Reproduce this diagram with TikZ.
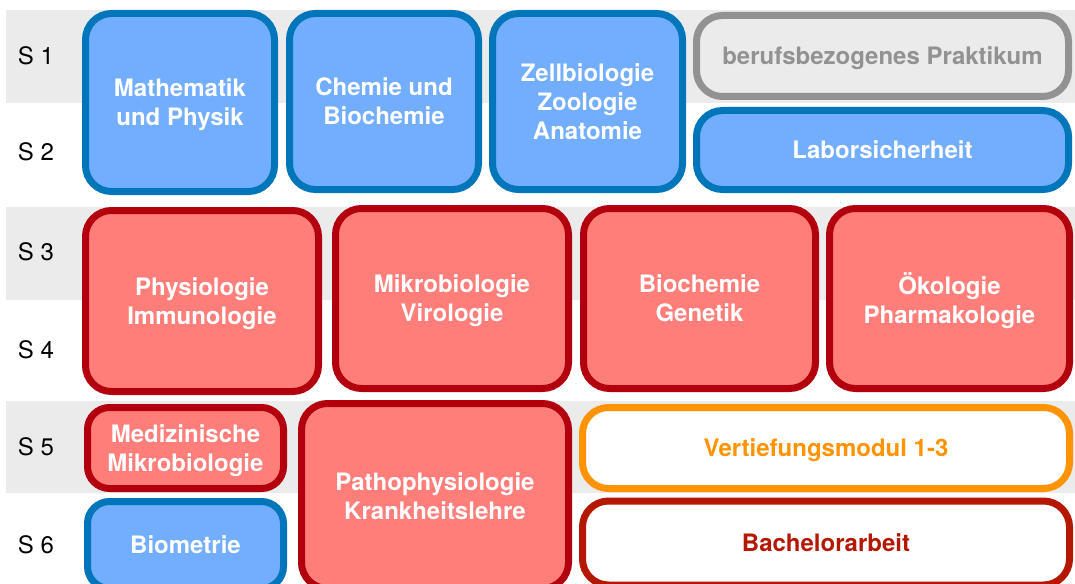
\documentclass[tikz,border=0pt]{standalone}
\usepackage{fontspec}
\setmainfont{TeX Gyre Heros}
\definecolor{band}{HTML}{EBEBEB}
\definecolor{bluefill}{HTML}{72ADFE}
\definecolor{blueline}{HTML}{0076BA}
\definecolor{redfill}{HTML}{FF7E79}
\definecolor{redline}{HTML}{B3000F}
\definecolor{grayline}{HTML}{929292}
\definecolor{orangeline}{HTML}{FF9300}
\definecolor{thesisline}{HTML}{B41800}

\begin{document}
\begin{tikzpicture}[x=1pt,y=-1pt]

\tikzset{module/.style = {shape=rectangle,rounded corners=26pt,line width=7pt,inner sep=0pt,
  align=center,text depth=-2pt,font=\fontsize{24}{29}\selectfont\bfseries,text=white}}
\tikzset{bluemod/.style = {module,draw=blueline,fill=bluefill}}
\tikzset{redmod/.style = {module,draw=redline,fill=redfill}}
\tikzset{sem/.style = {font=\fontsize{24}{29}\selectfont}}

\useasboundingbox (0,0) rectangle (1075,583);
\begin{scope}
\clip (0,0) rectangle (1075,583);

% grey bands for odd semesters
\fill[band] (6,10) rectangle (1075,103);
\fill[band] (6,207) rectangle (1075,300);
\fill[band] (6,401) rectangle (1075,493);

\node[sem] (s1) at (36,56) {S 1};
\node[sem] (s2) at (36,152) {S 2};
\node[sem] (s3) at (36,252) {S 3};
\node[sem] (s4) at (36,350) {S 4};
\node[sem] (s5) at (36,447) {S 5};
\node[sem] (s6) at (36,545) {S 6};

% semester 1-2
\node[bluemod,minimum width=189pt,minimum height=178pt] (math) at (180,102.5) {Mathematik\\und Physik};
\node[bluemod,minimum width=189pt,minimum height=176pt] (chem) at (384,101.5) {Chemie und\\Biochemie};
\node[bluemod,minimum width=190pt,minimum height=176pt] (zell) at (587.5,101.5) {Zellbiologie\\Zoologie\\Anatomie};
\node[module,draw=grayline,text=grayline,minimum width=372pt,minimum height=81pt] (prak) at (882.5,56) {berufsbezogenes Praktikum};
\node[bluemod,minimum width=372pt,minimum height=79pt] (labor) at (882.5,150) {Laborsicherheit};

% semester 3-4
\node[redmod,minimum width=233pt,minimum height=181pt] (phys) at (202,301) {Physiologie\\Immunologie};
\node[redmod,minimum width=233pt,minimum height=180pt] (mikro) at (452,298.5) {Mikrobiologie\\Virologie};
\node[redmod,minimum width=232pt,minimum height=180pt] (gen) at (699.5,298.5) {Biochemie\\Genetik};
\node[redmod,minimum width=240pt,minimum height=180pt] (oeko) at (949.5,298.5) {Ökologie\\Pharmakologie};

% semester 5-6
\node[redmod,rounded corners=22pt,minimum width=196pt,minimum height=81pt] (med) at (185.5,448) {Medizinische\\Mikrobiologie};
\node[bluemod,rounded corners=22pt,minimum width=196pt,minimum height=87pt] (biom) at (185.5,545) {Biometrie};
\node[redmod,minimum width=267pt,minimum height=185pt] (patho) at (435,496) {Pathophysiologie\\Krankheitslehre};
\node[module,draw=orangeline,fill=white,text=orangeline,minimum width=487pt,minimum height=81pt] (vert) at (826,448) {Vertiefungsmodul 1-3};
\node[module,draw=thesisline,fill=white,text=thesisline,minimum width=487pt,minimum height=84pt] (bach) at (826,543) {Bachelorarbeit};
\end{scope}

\end{tikzpicture}
\end{document}
